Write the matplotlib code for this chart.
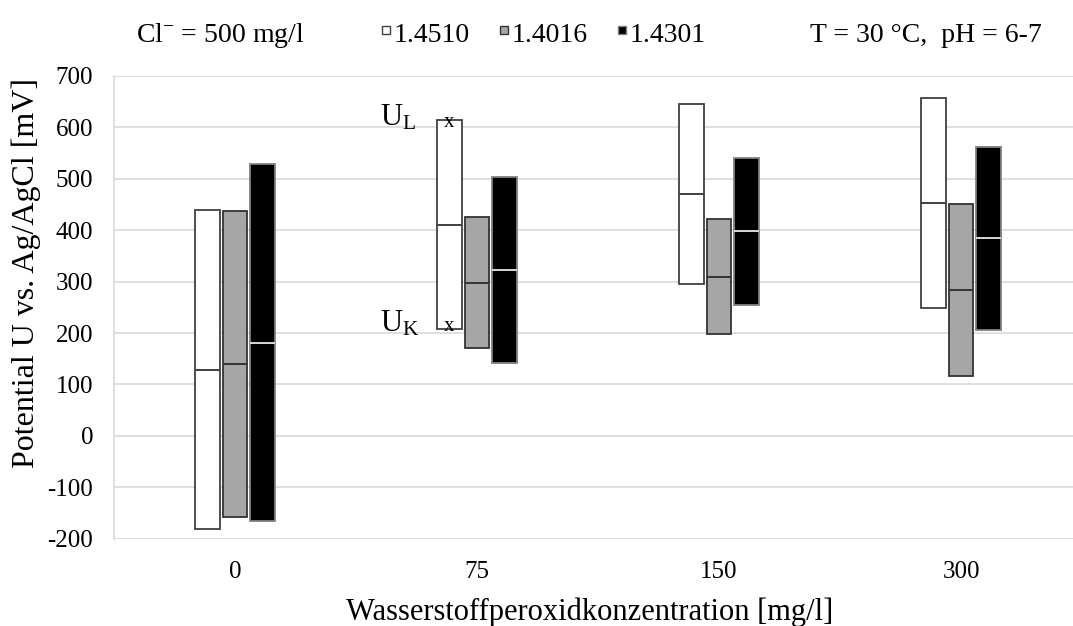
import matplotlib
matplotlib.use('Agg')
import matplotlib.pyplot as plt
import numpy as np
from matplotlib.patches import Rectangle

# Categories (H2O2 concentration in mg/l)
categories = ['0', '75', '150', '300']
series_names = ['1.4510', '1.4016', '1.4301']

# Potential ranges per material: lower end, middle line, upper end [mV]
low_4510 = [-182, 208, 296, 248]
mid_4510 = [128, 411, 470, 452]
high_4510 = [440, 615, 646, 657]

low_4016 = [-158, 171, 199, 117]
mid_4016 = [140, 298, 309, 284]
high_4016 = [438, 425, 422, 451]

low_4301 = [-166, 142, 255, 206]
mid_4301 = [181, 322, 398, 385]
high_4301 = [528, 503, 541, 562]

y_ticks = [-200, -100, 0, 100, 200, 300, 400, 500, 600, 700]


def px(x, y):
    """Pixel position (from top-left) to figure coords."""
    return x / 1073, 1 - y / 626


def create_chart():
    plt.rcParams['font.family'] = ['Liberation Serif', 'DejaVu Serif']
    plt.rcParams['mathtext.fontset'] = 'custom'
    plt.rcParams['mathtext.rm'] = 'Liberation Serif'
    plt.rcParams['mathtext.it'] = 'Liberation Serif'
    plt.rcParams['axes.unicode_minus'] = False

    fig = plt.figure(figsize=(10.73, 6.26), dpi=100)
    ax = fig.add_axes([114 / 1073, 1 - 538.6 / 626, 968 / 1073, (538.6 - 76) / 626])

    x = np.arange(len(categories))
    width = 0.103
    step = 0.114

    styles = [
        ('white', '#404040', '#404040'),
        ('#a6a6a6', '#333333', '#333333'),
        ('black', '#808080', '#d9d9d9'),
    ]
    data = [
        (low_4510, mid_4510, high_4510),
        (low_4016, mid_4016, high_4016),
        (low_4301, mid_4301, high_4301),
    ]

    for i, ((low, mid, high), (face, edge, midcol)) in enumerate(zip(data, styles)):
        pos = x + (i - 1) * step
        low = np.array(low)
        high = np.array(high)
        ax.bar(pos, high - low, width, bottom=low, color=face,
               edgecolor=edge, linewidth=1.3, zorder=3)
        ax.hlines(mid, pos - width / 2, pos + width / 2, color=midcol,
                  linewidth=1.4, zorder=4)

    # U_L / U_K annotation on the 1.4510 box at 75 mg/l
    xb = x[1] - step
    ax.text(xb, high_4510[1] - 15, 'x', ha='center', va='baseline', fontsize=15, zorder=5)
    ax.text(xb, low_4510[1] - 5, 'x', ha='center', va='baseline', fontsize=15, zorder=5)
    ax.text(0.60, 603, r'U$_\mathrm{L}$', fontsize=22, ha='left', va='baseline')
    ax.text(0.60, 203, r'U$_\mathrm{K}$', fontsize=22, ha='left', va='baseline')

    ax.set_xlim(-0.5, 3.5)
    ax.set_ylim(-200, 700)
    ax.set_yticks(y_ticks)
    ax.set_xticks(x)
    ax.set_xticklabels(categories)
    ax.tick_params(axis='both', length=0, labelsize=18)
    ax.tick_params(axis='x', pad=16)
    ax.tick_params(axis='y', pad=15)

    ax.grid(True, axis='y', color='#d9d9d9', linewidth=1.2, zorder=0)
    ax.set_axisbelow(True)
    for side in ['top', 'right', 'bottom']:
        ax.spines[side].set_visible(False)
    ax.spines['left'].set_color('#d9d9d9')
    ax.spines['left'].set_linewidth(1.2)

    # Axis titles
    fig.text(*px(26, 273), 'Potential U vs. Ag/AgCl [mV]', rotation=90,
             ha='center', va='center', fontsize=23)
    fig.text(*px(590, 612), 'Wasserstoffperoxidkonzentration [mg/l]',
             ha='center', va='center', fontsize=22)

    # Header line
    fig.text(*px(136, 42), r'Cl$^{-}$ = 500 mg/l', ha='left', va='baseline', fontsize=20)
    fig.text(*px(1042, 42), 'T = 30 °C,  pH = 6-7', ha='right', va='baseline', fontsize=20)
    marker_x = [382, 500, 618]
    for (face, edge, _), name, mx in zip(styles, series_names, marker_x):
        fig.patches.append(Rectangle(px(mx, 34), 8 / 1073, 8 / 626, facecolor=face,
                                     edgecolor=edge, linewidth=1,
                                     transform=fig.transFigure, figure=fig))
        fig.text(*px(mx + 12, 42), name, ha='left', va='baseline', fontsize=20)

    fig.savefig('out.png', dpi=100)
    plt.close(fig)


def main():
    create_chart()


if __name__ == "__main__":
    main()
